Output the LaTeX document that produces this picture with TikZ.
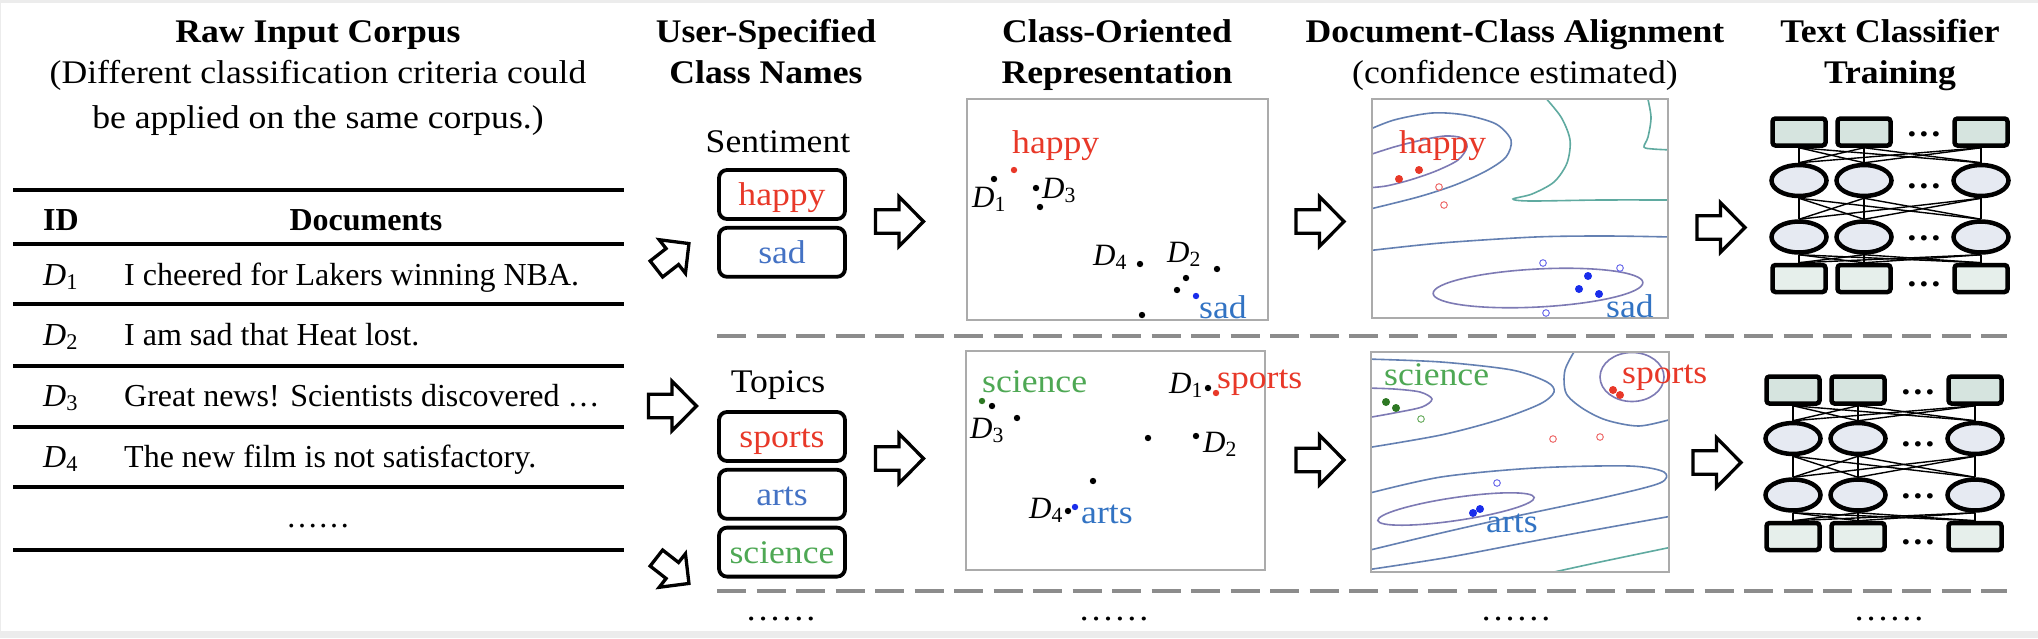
\documentclass[tikz,border=0pt]{standalone}
\usepackage{fix-cm}
\usepackage{fontspec}
\setmainfont{Liberation Serif}[FakeStretch=1.08]
\newfontfamily\tabfont{Liberation Serif}
\usetikzlibrary{arrows.meta,positioning,shapes.geometric,backgrounds,calc}

\definecolor{framegray}{RGB}{236,236,236}
\definecolor{cred}{RGB}{232,56,40}
\definecolor{cblue}{RGB}{68,114,196}
\definecolor{pblue}{RGB}{50,115,195}
\definecolor{cgreen}{RGB}{78,168,84}
\definecolor{dotblue}{RGB}{25,45,235}
\definecolor{dotgreen}{RGB}{45,120,35}
\definecolor{ringred}{RGB}{238,110,110}
\definecolor{ringblue}{RGB}{110,110,235}
\definecolor{ringgreen}{RGB}{110,175,100}
\definecolor{lvlin}{RGB}{125,122,180}
\definecolor{lvmid}{RGB}{100,128,178}
\definecolor{lvout}{RGB}{95,170,160}
\definecolor{nnrect}{RGB}{214,228,223}
\definecolor{nnrectb}{RGB}{230,239,235}
\definecolor{nnell}{RGB}{230,234,242}

\tikzset{
    blockarr/.pic={
        \draw[line width=3.3pt, fill=white, line join=miter]
            (-24.5,-11.8) -- (-1,-11.8) -- (-1,-24.8) -- (23.5,0) -- (-1,24.8) -- (-1,11.8) -- (-24.5,11.8) -- cycle;
    }
}

\begin{document}
\begin{tikzpicture}[x=1pt, y=-1pt,
    hdr/.style={font=\fontsize{33}{40}\selectfont\bfseries, inner sep=0pt, anchor=base},
    sub/.style={font=\fontsize{33}{40}\selectfont, inner sep=0pt, anchor=base},
    tabtx/.style={font=\tabfont\fontsize{32}{38}\selectfont, inner sep=0pt, anchor=base west},
    tabrule/.style={line width=3.3pt},
    clsbox/.style={draw, rounded corners=8pt, line width=3.8pt, minimum width=126pt, minimum height=49pt,
        inner sep=0pt, text height=24pt, text depth=2pt, font=\fontsize{33}{40}\selectfont},
    plotbox/.style={draw=black!33, line width=1.8pt},
    word/.style={font=\fontsize{33}{40}\selectfont, inner sep=0pt, anchor=base west},
    dlab/.style={font=\tabfont\fontsize{31}{36}\selectfont, inner sep=0pt, anchor=base west},
    lvin/.style={draw=lvlin, line width=1.6pt},
    lvmidline/.style={draw=lvmid, line width=1.6pt},
    lvoutline/.style={draw=lvout, line width=1.6pt},
    sepline/.style={draw=black!45, line width=3.3pt, dash pattern=on 29pt off 10.5pt},
    nnin/.style={draw, line width=4.5pt, rounded corners=3pt, fill=nnrect, minimum width=53pt, minimum height=27pt, inner sep=0pt},
    nnout/.style={nnin, fill=nnrectb},
    nnhid/.style={ellipse, draw, line width=4.5pt, fill=nnell, minimum width=55pt, minimum height=31pt, inner sep=0pt},
    nnlink/.style={line width=1.4pt},
    nndots/.style={font=\fontsize{33}{40}\selectfont\bfseries, inner sep=0pt, anchor=base}
]
    % frame
    \begin{scope}[on background layer]
        \fill[framegray] (0,0) rectangle (2038,638);
        \fill[white] (1,3) rectangle (2038,631);
    \end{scope}
    \useasboundingbox (0,0) rectangle (2038,638);

    % column headings
    \node[hdr] (corpus) at (318,42) {Raw Input Corpus};
    \node[sub] (corpusA) at ([yshift=-41pt]corpus.base) {(Different classification criteria could};
    \node[sub] (corpusB) at ([yshift=-45pt]corpusA.base) {be applied on the same corpus.)};
    \node[hdr] (names) at (766,42) {User-Specified};
    \node[hdr] (namesB) at ([yshift=-41pt]names.base) {Class Names};
    \node[hdr] (repr) at (1117,42) {Class-Oriented};
    \node[hdr] (reprB) at ([yshift=-41pt]repr.base) {Representation};
    \node[hdr] (align) at (1515,42) {Document-Class Alignment};
    \node[sub] (alignB) at ([yshift=-41pt]align.base) {(confidence estimated)};
    \node[hdr] (train) at (1890,42) {Text Classifier};
    \node[hdr] (trainB) at ([yshift=-41pt]train.base) {Training};

    % corpus table
    \foreach \y in {190,244,304,366,427,487,550}
        \draw[tabrule] (13,\y) -- (624,\y);
    \node[tabtx, font=\tabfont\fontsize{32}{38}\selectfont\bfseries] (idhead) at (43,230) {ID};
    \node[tabtx, anchor=base, font=\tabfont\fontsize{32}{38}\selectfont\bfseries] (dochead) at (366,230) {Documents};
    \node[tabtx] (id1) at (43,285) {\textit{D}\textsubscript{1}};
    \node[tabtx] (doc1) at (124,285) {I cheered for Lakers winning NBA.};
    \node[tabtx] (id2) at (43,345) {\textit{D}\textsubscript{2}};
    \node[tabtx] (doc2) at (124,345) {I am sad that Heat lost.};
    \node[tabtx] (id3) at (43,406) {\textit{D}\textsubscript{3}};
    \node[tabtx] (doc3) at (124,406) {Great news! Scientists discovered …};
    \node[tabtx] (id4) at (43,467) {\textit{D}\textsubscript{4}};
    \node[tabtx] (doc4) at (124,467) {The new film is not satisfactory.};
    \node[tabtx, anchor=base] (docmore) at (318,527) {……};

    % arrows out of the corpus
    \pic[rotate=38, scale=0.86] (toSenti) at (673,256) {blockarr};
    \pic (toTopics) at (673,406) {blockarr};
    \pic[rotate=-38, scale=0.86] (toMore) at (673,571) {blockarr};

    % class names
    \node[sub] (senti) at (778,152) {Sentiment};
    \node[clsbox, text=cred] (happy) at (782,194.5) {happy};
    \node[clsbox, text=cblue, below=5pt of happy] (sad) {sad};
    \node[sub] (topics) at (778,392) {Topics};
    \node[clsbox, text=cred] (sports) at (782,436.5) {sports};
    \node[clsbox, text=cblue, below=5pt of sports] (arts) {arts};
    \node[clsbox, text=cgreen, below=5pt of arts] (science) {science};

    \pic (toReprA) at (900,221.5) {blockarr};
    \pic (toReprB) at (900,458.5) {blockarr};
    \pic (toAlignA) at (1320.5,221.5) {blockarr};
    \pic (toAlignB) at (1320.5,460) {blockarr};
    \pic (toTrainA) at (1721.5,227.5) {blockarr};
    \pic (toTrainB) at (1717.5,462.5) {blockarr};

    % class-oriented representation
    \draw[plotbox] (967,99) rectangle (1268,320);
    \draw[plotbox] (966,351) rectangle (1265,570);
    \foreach \p in {(994,179),(1036,188),(1040,207),(1140,264),(1217,269),(1186,278),(1177,290),(1142,315)}
        \fill \p circle (3.2);
    \fill[cred] (1014,170) circle (3.2);
    \fill[dotblue] (1196,296) circle (3.2);
    \node[word, text=cred] (reprHappy) at (1012,153) {happy};
    \node[word, text=pblue] (reprSad) at (1199,318) {sad};
    \node[dlab] (reprD1) at (972,207) {\textit{D}\textsubscript{1}};
    \node[dlab] (reprD3) at (1042,198) {\textit{D}\textsubscript{3}};
    \node[dlab] (reprD4) at (1093,265) {\textit{D}\textsubscript{4}};
    \node[dlab] (reprD2) at (1167,262) {\textit{D}\textsubscript{2}};

    \foreach \p in {(992,406),(1017,418),(1208,388),(1148,438),(1196,436),(1093,481),(1068,511)}
        \fill \p circle (3.2);
    \fill[dotgreen] (982,401) circle (3.2);
    \fill[cred] (1216,393) circle (3.2);
    \fill[dotblue] (1075,507) circle (3.2);
    \node[word, text=cgreen] (reprScience) at (982,392) {science};
    \node[word, text=cred] (reprSports) at (1217,388) {sports};
    \node[word, text=pblue] (reprArts) at (1081,523) {arts};
    \node[dlab] (reprE1) at (1169,393) {\textit{D}\textsubscript{1}};
    \node[dlab] (reprE3) at (970,438) {\textit{D}\textsubscript{3}};
    \node[dlab] (reprE2) at (1203,452) {\textit{D}\textsubscript{2}};
    \node[dlab] (reprE4) at (1029,518) {\textit{D}\textsubscript{4}};

    % document-class alignment
    \begin{scope}
        \clip (1372,99) rectangle (1668,318);
        \draw[lvin] plot[smooth] coordinates {(1366,156) (1394,147) (1422,140) (1445,136) (1462,138) (1467,147) (1458,160) (1436,171) (1410,180) (1386,186) (1366,188)};
        \draw[lvmidline] plot[smooth] coordinates {(1366,131) (1394,120) (1432,113) (1465,115) (1496,124) (1511,140) (1506,157) (1486,171) (1455,185) (1418,197) (1366,210)};
        \draw[lvoutline] plot[smooth] coordinates {(1543,95) (1561,117) (1570,140) (1567,163) (1554,182) (1532,194) (1513,199) (1530,201) (1600,200) (1672,200)};
        \draw[lvoutline] plot[smooth] coordinates {(1647,95) (1651,117) (1648,137) (1644,147) (1653,149) (1672,150)};
        \draw[lvmidline] plot[smooth] coordinates {(1366,251) (1441,243) (1535,237) (1606,236) (1672,237)};
        \draw[lvin, rotate around={3:(1538,288)}] (1538,288) ellipse [x radius=105, y radius=19];
    \end{scope}
    \draw[plotbox] (1372,99) rectangle (1668,318);
    \fill[cred] (1399,179) circle (4) (1419,170) circle (4);
    \draw[ringred, line width=1pt] (1439,187) circle (3.3) (1444,205) circle (3.3);
    \draw[ringblue, line width=1pt] (1543,263) circle (3.3) (1620,268) circle (3.3) (1546,313) circle (3.3);
    \fill[dotblue] (1588,276) circle (4) (1579,289) circle (4) (1599,294) circle (4);
    \node[word, text=cred] (alignHappy) at (1399,153) {happy};
    \node[word, text=pblue] (alignSad) at (1606,317) {sad};

    \begin{scope}
        \clip (1371,352) rectangle (1669,572);
        \draw[lvin] plot[smooth] coordinates {(1366,388) (1394,389) (1420,392) (1432,399) (1422,407) (1394,413) (1366,418)};
        \draw[lvmidline] plot[smooth] coordinates {(1366,359) (1441,362) (1512,370) (1547,382) (1554,392) (1540,404) (1498,420) (1441,435) (1366,448)};
        \draw[lvmidline] plot[smooth] coordinates {(1577,347) (1565,370) (1566,393) (1582,408) (1606,420) (1639,426) (1672,419)};
        \draw[lvin] (1632,377) ellipse [x radius=32, y radius=24.5];
        \draw[lvin, rotate around={8.4:(1456,509)}] (1456,509) ellipse [x radius=79, y radius=11.5];
        \draw[lvmidline] plot[smooth] coordinates {(1366,494) (1441,477) (1535,468) (1629,466) (1664,472) (1660,483) (1606,497) (1512,517) (1441,533) (1366,551)};
        \draw[lvmidline] plot[smooth] coordinates {(1366,570) (1450,557) (1550,538) (1672,516)};
        \draw[lvoutline] plot[smooth] coordinates {(1545,574) (1600,562) (1672,547)};
    \end{scope}
    \draw[plotbox] (1371,352) rectangle (1669,572);
    \fill[dotgreen] (1386,402) circle (4) (1396,408) circle (4);
    \draw[ringgreen, line width=1pt] (1421,419) circle (3.3);
    \fill[cred] (1613,390) circle (4) (1620,395) circle (4);
    \draw[ringred, line width=1pt] (1553,439) circle (3.3) (1600,437) circle (3.3);
    \draw[ringblue, line width=1pt] (1497,483) circle (3.3);
    \fill[dotblue] (1473,513) circle (4) (1480,509) circle (4);
    \node[word, text=cgreen] (alignScience) at (1384,385) {science};
    \node[word, text=cred] (alignSports) at (1622,383) {sports};
    \node[word, text=pblue] (alignArts) at (1486,532) {arts};

    % text classifiers
    \foreach \n/\dx/\dy in {A/0/0, B/-6/258} {
        \foreach \c/\x in {1/1799, 2/1864, 3/1981} {
            \node[nnin] (in\n\c) at (\x+\dx,132+\dy) {};
            \node[nnhid] (hid\n\c) at (\x+\dx,180.5+\dy) {};
            \node[nnhid] (hidd\n\c) at (\x+\dx,237+\dy) {};
            \node[nnout] (out\n\c) at (\x+\dx,278.5+\dy) {};
        }
        \begin{scope}[on background layer]
            \foreach \i in {1,2,3} \foreach \j in {1,2,3} {
                \draw[nnlink] (in\n\i.south) -- (hid\n\j.north);
                \draw[nnlink] (hid\n\i.south) -- (hidd\n\j.north);
                \draw[nnlink] (hidd\n\i.south) -- (out\n\j.north);
            }
        \end{scope}
        \node[nndots] (dotsIn\n) at (1924+\dx,136+\dy) {…};
        \node[nndots] (dotsHid\n) at (1924+\dx,188+\dy) {…};
        \node[nndots] (dotsHidd\n) at (1924+\dx,240+\dy) {…};
        \node[nndots] (dotsOut\n) at (1924+\dx,286+\dy) {…};
    }

    % separators
    \draw[sepline] (717,336) -- (2007,336);
    \draw[sepline] (717,591) -- (2007,591);
    \node[sub] (moreNames) at (781,620) {……};
    \node[sub] (moreRepr) at (1114,620) {……};
    \node[sub] (moreAlign) at (1516,620) {……};
    \node[sub] (moreTrain) at (1889,620) {……};
\end{tikzpicture}
\end{document}
